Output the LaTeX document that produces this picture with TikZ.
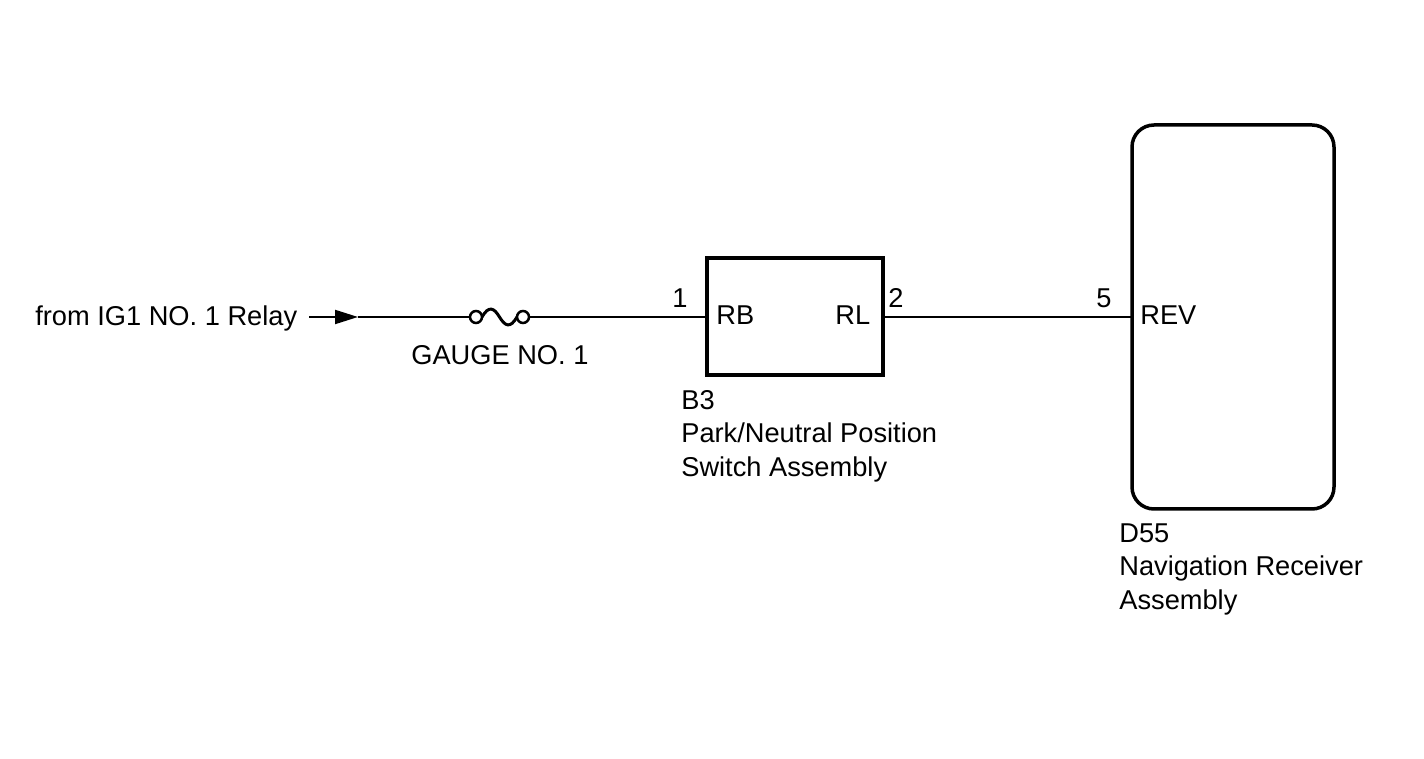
\documentclass[tikz,border=0pt]{standalone}
\usepackage{fontspec}
\setmainfont{Liberation Sans}
\usetikzlibrary{arrows.meta}

\tikzset{
  lbl/.style={anchor=base west, inner sep=0pt, font=\fontsize{15.5}{19}\selectfont},
  lblr/.style={lbl, anchor=base east},
  wire/.style={line width=0.04cm},
  part/.style={line width=0.07cm}
}

\begin{document}
\begin{tikzpicture}[x=0.02cm, y=-0.02cm]
            \useasboundingbox (0,0) rectangle (1424,759);

            % switch and receiver
            \draw [part] (707,258) rectangle (883,375);
            \node [inner sep=0pt, minimum width=3.52cm, minimum height=2.34cm] (swbox) at (795,316.5) {};
            \draw [part, rounded corners=0.44cm] (1132,125) rectangle (1334,509);
            \node [inner sep=0pt, minimum width=4.04cm, minimum height=7.68cm] (navbox) at (1233,317) {};

            % source and fuse
            \node [lbl] (src) at (35,326) {from IG1 NO. 1 Relay};
            \coordinate (wirestart) at (309,317);
            \coordinate (arrtip) at (358,317);
            \coordinate (fuseL) at (476,317);
            \coordinate (fuseR) at (523,317);
            \draw [wire, -{Triangle[length=0.46cm, width=0.28cm]}] (wirestart) -- (arrtip);
            \draw [wire] (arrtip) -- ([xshift=-0.12cm]fuseL);
            \draw [wire, line width=0.05cm] (fuseL) circle [radius=0.12cm];
            \draw [wire, line width=0.05cm] (fuseR) circle [radius=0.12cm];
            \draw [wire, line width=0.06cm] ([xshift=0.12cm]fuseL) .. controls (489,305) and (494,308) .. (499.5,317)
                         .. controls (505,326) and (510,329) .. ([xshift=-0.12cm]fuseR);
            \node [lbl] (fuselbl) at (411,365) {GAUGE NO. 1};

            % wires
            \coordinate (swin) at (swbox.west |- fuseR);
            \coordinate (swout) at (swbox.east |- fuseR);
            \coordinate (navin) at (navbox.west |- fuseR);
            \draw [wire] ([xshift=0.12cm]fuseR) -- (swin);
            \draw [wire] (swout) -- (navin);

            % pins
            \node [lbl] (pin1) at (672,308) {1};
            \node [lbl] (pinRB) at (716,325) {RB};
            \node [lbl] (pinRL) at (835,325) {RL};
            \node [lbl] (pin2) at (888,308) {2};
            \node [lbl] (pin5) at (1096,308) {5};
            \node [lbl] (pinREV) at (1140,325) {REV};

            % part names
            \node [lbl] (b3id) at (681,410) {B3};
            \node [lbl] (b3nameA) at (681,443) {Park/Neutral Position};
            \node [lbl] (b3nameB) at (681,477) {Switch Assembly};

            \node [lbl] (d55id) at (1119,543) {D55};
            \node [lbl] (d55nameA) at (1119,576) {Navigation Receiver};
            \node [lbl] (d55nameB) at (1119,610) {Assembly};

        \end{tikzpicture}
\end{document}
